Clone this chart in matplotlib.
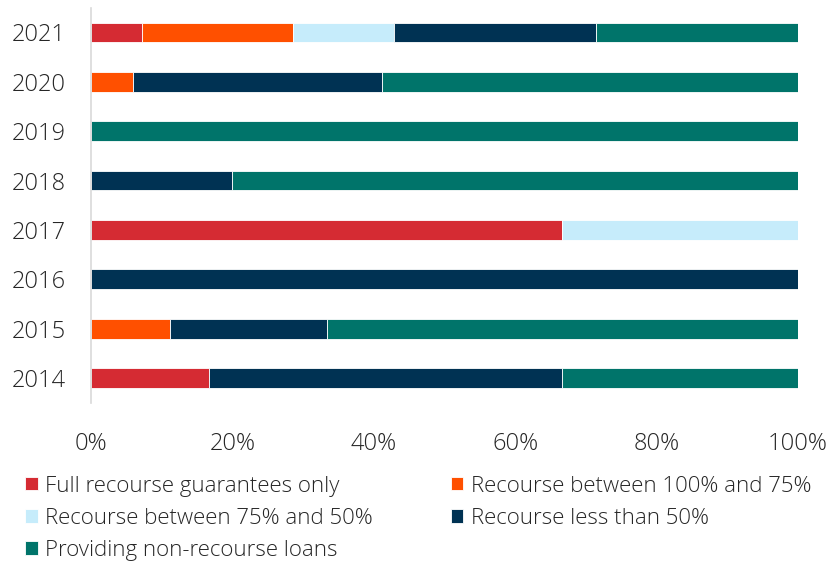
import matplotlib
matplotlib.use("Agg")
import matplotlib.pyplot as plt
import numpy as np

plt.rcParams['font.family'] = ['Open Sans', 'DejaVu Sans']
plt.rcParams['font.weight'] = 'light'

years = ["2021", "2020", "2019", "2018", "2017", "2016", "2015", "2014"]
series_names = [
    "Full recourse guarantees only",
    "Recourse between 100% and 75%",
    "Recourse between 75% and 50%",
    "Recourse less than 50%",
    "Providing non-recourse loans",
]
colors = ["#D52B33", "#FF5000", "#C6ECFB", "#003253", "#00746A"]

# share of respondents (%) per year, in the order of `years`
full_recourse = [7.14, 0.0, 0.0, 0.0, 66.67, 0.0, 0.0, 16.67]
recourse_100_75 = [21.43, 5.88, 0.0, 0.0, 0.0, 0.0, 11.11, 0.0]
recourse_75_50 = [14.29, 0.0, 0.0, 0.0, 33.33, 0.0, 0.0, 0.0]
recourse_lt_50 = [28.57, 35.29, 0.0, 20.0, 0.0, 100.0, 22.22, 50.0]
non_recourse = [28.57, 58.82, 100.0, 80.0, 0.0, 0.0, 66.67, 33.33]

series = [full_recourse, recourse_100_75, recourse_75_50, recourse_lt_50, non_recourse]

fig = plt.figure(figsize=(8.29, 5.61), dpi=100)
ax = fig.add_axes([0.1098, 0.2822, 0.8528, 0.704])

y = np.arange(len(years))
left = np.zeros(len(years))
handles = []
for name, vals, col in zip(series_names, series, colors):
    vals = np.array(vals)
    h = ax.barh(y, vals, left=left, height=0.4, color=col,
                edgecolor="white", linewidth=0.6, label=name)
    handles.append(h)
    left += vals

ax.set_ylim(len(years) - 0.5, -0.5)
ax.set_xlim(0, 100)
ax.set_yticks(y)
ax.set_yticklabels(years)
ax.set_xticks([0, 20, 40, 60, 80, 100])
ax.set_xticklabels([f"{v}%" for v in [0, 20, 40, 60, 80, 100]])

for s in ["top", "right", "bottom"]:
    ax.spines[s].set_visible(False)
ax.spines["left"].set_color("#D9D9D9")
ax.spines["left"].set_linewidth(1.2)
ax.tick_params(axis="both", length=0, labelsize=17, colors="#262626")
ax.tick_params(axis="x", pad=21)
ax.tick_params(axis="y", pad=18)

order = [0, 2, 4, 1, 3]
fig.legend([handles[i] for i in order], [series_names[i] for i in order],
           loc="upper left", bbox_to_anchor=(0.02, 0.168), ncol=2,
           frameon=False, fontsize=16, handlelength=0.55, handleheight=0.55,
           handletextpad=0.35, columnspacing=3.5, labelspacing=0.5,
           borderaxespad=0, labelcolor="#262626")

fig.savefig("out.png", dpi=100, facecolor="white")
